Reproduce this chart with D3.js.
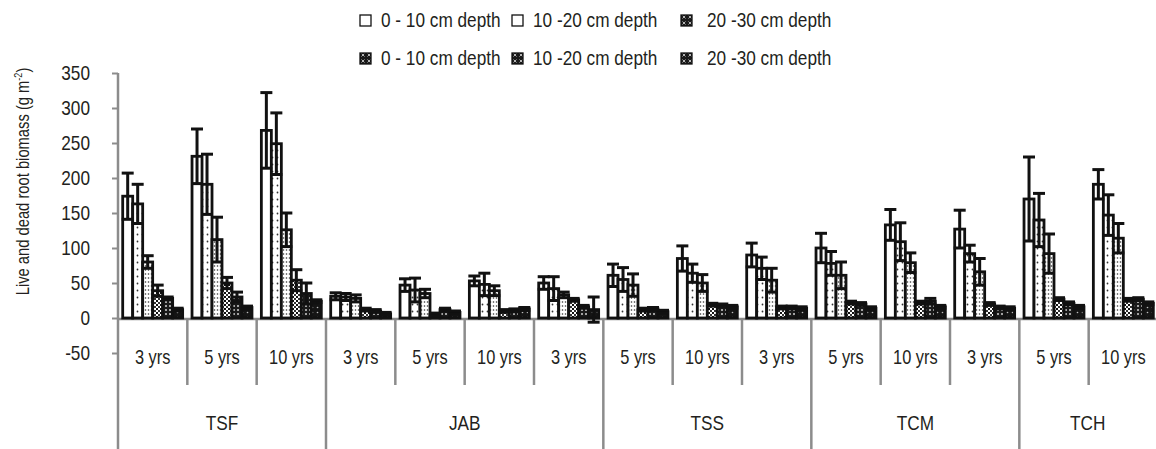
<!DOCTYPE html>
<html>
<head>
<meta charset="utf-8">
<script src="https://cdn.jsdelivr.net/npm/d3@7"></script>
<style>
  body { margin: 0; background: #fff; }
  #wrapper text { font-family: "Liberation Sans", Arial, sans-serif; fill: #231f20; }
</style>
</head>
<body>
<div id="wrapper"></div>
<script>
// data
const groups = ["TSF", "JAB", "TSS", "TCM", "TCH"];
const groupSizes = [3, 4, 3, 3, 2];
const categories = ["3 yrs", "5 yrs", "10 yrs", "3 yrs", "5 yrs", "10 yrs", "3 yrs",
  "5 yrs", "10 yrs", "3 yrs", "5 yrs", "10 yrs", "3 yrs", "5 yrs", "10 yrs"];
const seriesNames = ["0 - 10 cm depth", "10 -20 cm depth", "20 -30 cm depth",
  "0 - 10 cm depth", "10 -20 cm depth", "20 -30 cm depth"];
const yTicks = [-50, 0, 50, 100, 150, 200, 250, 300, 350];

const s1 = [174, 231, 268, 31, 47, 53, 50, 61, 85, 90, 100, 133, 127, 170, 191];
const s2 = [163, 191, 249, 30, 40, 48, 42, 55, 64, 71, 78, 109, 92, 140, 147];
const s3 = [80, 112, 126, 28, 35, 39, 33, 47, 50, 54, 61, 79, 66, 92, 114];
const s4 = [39, 50, 54, 12, 5, 10, 26, 12, 19, 15, 22, 22, 20, 27, 26];
const s5 = [28, 30, 35, 10, 12, 11, 16, 13, 18, 15, 20, 24, 15, 21, 27];
const s6 = [12, 15, 24, 6, 8, 13, 12, 9, 16, 14, 14, 16, 14, 16, 21];

const e1 = [33, 39, 54, 5, 9, 7, 9, 16, 18, 17, 21, 22, 27, 60, 21];
const e2 = [28, 43, 44, 5, 17, 16, 17, 17, 13, 16, 17, 27, 12, 38, 29];
const e3 = [9, 32, 24, 5, 6, 7, 4, 16, 12, 17, 19, 14, 19, 28, 21];
const e4 = [8, 8, 15, 2, 2, 2, 2, 2, 2, 2, 2, 2, 2, 2, 2];
const e5 = [2, 7, 15, 2, 2, 2, 2, 2, 2, 2, 2, 4, 2, 2, 2];
const e6 = [2, 2, 2, 2, 2, 2, 18, 2, 2, 2, 2, 2, 2, 2, 2];

const seriesValues = [s1, s2, s3, s4, s5, s6];
const seriesErrors = [e1, e2, e3, e4, e5, e6];

// chart dimensions
const dimensions = {
  width: 1156,
  height: 449,
  left: 118,
  right: 1158,
  yTop: 73,
  yBottom: 353,
};

const svg = d3.select("#wrapper").append("svg")
  .attr("width", dimensions.width)
  .attr("height", dimensions.height);

// the figure uses a narrow face: squeeze Liberation Sans horizontally
const squeeze = 0.82;
function narrow(sel, rotate = 0) {
  sel.each(function () {
    const t = d3.select(this);
    const x = +t.attr("x") || 0;
    const y = +t.attr("y") || 0;
    t.attr("x", 0).attr("y", 0)
      .attr("transform", `translate(${x},${y}) rotate(${rotate}) scale(${squeeze},1)`);
  });
}

// fill patterns
const defs = svg.append("defs");
function pattern(id, w, h, bg, draw) {
  const p = defs.append("pattern").attr("id", id)
    .attr("patternUnits", "userSpaceOnUse").attr("width", w).attr("height", h);
  p.append("rect").attr("width", w).attr("height", h).attr("fill", bg);
  draw(p);
}
pattern("p2", 5, 7, "#fff", p => p.append("circle").attr("cx", 2.5).attr("cy", 3.5).attr("r", 0.9).attr("fill", "#333"));
pattern("p3", 3, 4, "#fff", p => p.append("circle").attr("cx", 1.5).attr("cy", 2).attr("r", 0.8).attr("fill", "#333"));
pattern("p4", 4, 4, "#fff", p => {
  p.append("rect").attr("x", 0).attr("y", 0).attr("width", 2).attr("height", 2).attr("fill", "#111");
  p.append("rect").attr("x", 2).attr("y", 2).attr("width", 2).attr("height", 2).attr("fill", "#333");
});
pattern("p5", 4, 4, "#1a1a1a", p => p.append("path").attr("d", "M1,1L3,3M3,1L1,3").attr("stroke", "#ddd").attr("stroke-width", 0.7));
pattern("p6", 5, 5, "#151515", p => p.append("circle").attr("cx", 2.5).attr("cy", 2.5).attr("r", 0.8).attr("fill", "#bbb"));
pattern("pl", 6, 6, "#1a1a1a", p => p.append("path").attr("d", "M1.5,1.5L4.5,4.5M4.5,1.5L1.5,4.5").attr("stroke", "#ddd").attr("stroke-width", 0.8));
const fills = ["#fff", "url(#p2)", "url(#p3)", "url(#p4)", "url(#p5)", "url(#p6)"];
const legendFills = ["#fff", "#fff", "url(#pl)", "url(#pl)", "url(#pl)", "url(#pl)"];

// scales
const xScale = d3.scaleBand()
  .domain(d3.range(categories.length))
  .range([dimensions.left, dimensions.right]);

const subScale = d3.scaleBand()
  .domain(d3.range(seriesValues.length))
  .range([0, xScale.bandwidth()])
  .paddingInner(0)
  .paddingOuter(0.47);

const yScale = d3.scaleLinear()
  .domain([-50, 350])
  .range([dimensions.yBottom, dimensions.yTop]);

const axisColor = "#8c8c8c";

// y axis
const yAxis = svg.append("g")
  .attr("transform", `translate(${dimensions.left},0)`)
  .call(d3.axisLeft(yScale).tickValues(yTicks).tickSize(6).tickSizeOuter(0)
    .tickPadding(22).tickFormat(d => String(d)));
yAxis.select(".domain").remove();
yAxis.selectAll(".tick line").attr("stroke", axisColor).attr("stroke-width", 2);
yAxis.selectAll(".tick text")
  .style("font-size", "21px")
  .attr("fill", "#231f20")
  .call(narrow);
yAxis.attr("font-family", null);
svg.append("line")
  .attr("x1", dimensions.left).attr("x2", dimensions.left)
  .attr("y1", dimensions.yTop).attr("y2", dimensions.height)
  .attr("stroke", axisColor).attr("stroke-width", 2.5);

// y axis label
svg.append("text")
  .attr("x", 29)
  .attr("y", (dimensions.yTop + 290) / 2)
  .attr("text-anchor", "middle")
  .style("font-size", "18px")
  .call(t => {
    t.append("tspan").text("Live and dead root biomass (g m");
    t.append("tspan").attr("dy", -7).style("font-size", "11px").text("-2");
    t.append("tspan").attr("dy", 7).text(")");
  })
  .call(narrow, -90);

// category axis
const y0 = yScale(0);
svg.append("line")
  .attr("x1", dimensions.left).attr("x2", dimensions.width)
  .attr("y1", y0 + 1).attr("y2", y0 + 1)
  .attr("stroke", axisColor).attr("stroke-width", 2.5);

const groupStarts = d3.cumsum([0, ...groupSizes]);
const boundaries = d3.range(1, categories.length + 1);
svg.append("g").selectAll("line")
  .data(boundaries)
  .join("line")
  .attr("x1", d => xScale(d - 1) + xScale.bandwidth())
  .attr("x2", d => xScale(d - 1) + xScale.bandwidth())
  .attr("y1", y0)
  .attr("y2", d => groupStarts.includes(d) ? dimensions.height : 385)
  .attr("stroke", axisColor).attr("stroke-width", 2.5);

svg.append("g").selectAll("text")
  .data(categories)
  .join("text")
  .attr("x", (d, i) => xScale(i) + xScale.bandwidth() / 2)
  .attr("y", 364)
  .attr("text-anchor", "middle")
  .style("font-size", "20px")
  .text(d => d)
  .call(narrow);

svg.append("g").selectAll("text")
  .data(groups)
  .join("text")
  .attr("x", (d, i) => {
    const a = xScale(groupStarts[i]);
    const b = xScale(groupStarts[i + 1] - 1) + xScale.bandwidth();
    return (a + Math.min(b, dimensions.width)) / 2;
  })
  .attr("y", 430)
  .attr("text-anchor", "middle")
  .style("font-size", "21px")
  .text(d => d)
  .call(narrow);

// bars
const bars = svg.append("g");
seriesValues.forEach((vals, s) => {
  bars.append("g").selectAll("rect")
    .data(vals)
    .join("rect")
    .attr("x", (d, i) => xScale(i) + subScale(s))
    .attr("width", subScale.bandwidth())
    .attr("y", d => yScale(d))
    .attr("height", d => y0 - yScale(d))
    .attr("fill", fills[s])
    .attr("stroke", "#111")
    .attr("stroke-width", 2.8);
});

// error bars
const errs = svg.append("g").attr("stroke", "#111").attr("stroke-width", 3);
seriesValues.forEach((vals, s) => {
  const cx = i => xScale(i) + subScale(s) + subScale.bandwidth() / 2;
  const capW = 6;
  const g = errs.append("g");
  vals.forEach((v, i) => {
    const e = seriesErrors[s][i];
    g.append("line").attr("x1", cx(i)).attr("x2", cx(i))
      .attr("y1", yScale(v - e)).attr("y2", yScale(v + e));
    g.append("line").attr("x1", cx(i) - capW).attr("x2", cx(i) + capW)
      .attr("y1", yScale(v + e)).attr("y2", yScale(v + e));
    g.append("line").attr("x1", cx(i) - capW).attr("x2", cx(i) + capW)
      .attr("y1", yScale(v - e)).attr("y2", yScale(v - e));
  });
});

// legend
const legendCols = [360, 512, 681];
const legendRows = [20, 58];
const legend = svg.append("g").selectAll("g")
  .data(seriesNames)
  .join("g")
  .attr("transform", (d, i) => `translate(${legendCols[i % 3]},${legendRows[Math.floor(i / 3)]})`);
legend.append("rect")
  .attr("x", 0).attr("y", -5).attr("width", 11).attr("height", 11)
  .attr("fill", (d, i) => legendFills[i])
  .attr("stroke", "#111").attr("stroke-width", 1.3);
legend.append("text")
  .attr("x", (d, i) => i % 3 === 2 ? 26 : 21)
  .attr("y", 7)
  .style("font-size", "21px")
  .text(d => d)
  .call(narrow);
</script>
</body>
</html>
